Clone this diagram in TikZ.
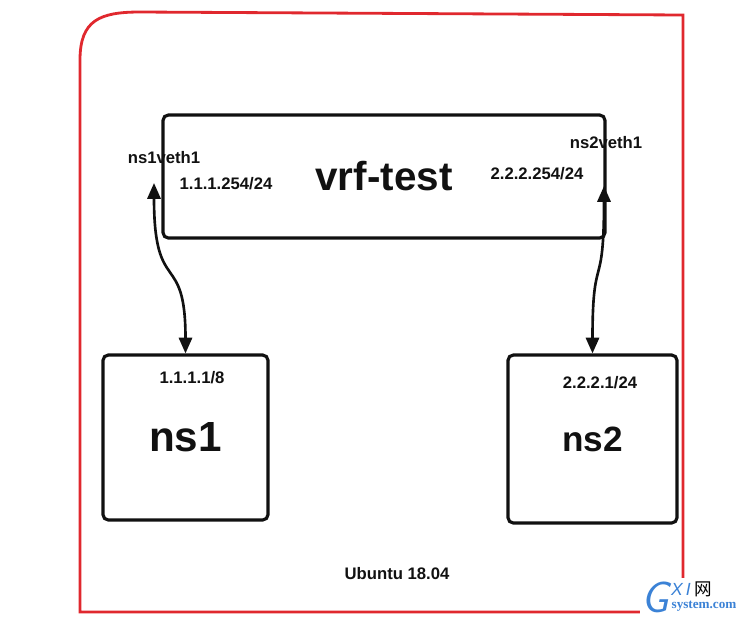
\documentclass[tikz,border=0pt]{standalone}
\usepackage{fontspec}
\setmainfont{Liberation Sans}
\newfontfamily\cjkfont{Noto Sans CJK SC}
\newfontfamily\wmserif{Liberation Serif}
\usepackage{tikz}
\usetikzlibrary{arrows.meta,positioning}
\definecolor{vrfred}{HTML}{E0282E}
\definecolor{vrfdark}{HTML}{111111}
\definecolor{wmblue}{HTML}{3B82D6}
\tikzset{
  nsbox/.style={draw=vrfdark,line width=1.8pt,rounded corners=3pt,inner sep=0pt,text=vrfdark,font=\bfseries\fontsize{24}{24}\selectfont},
  lbl/.style={font=\bfseries\fontsize{9.5}{10}\selectfont,text=vrfdark,inner sep=1pt},
  ar/.style={{Triangle[length=9pt,width=7.5pt]}-{Triangle[length=9pt,width=7.5pt]},draw=vrfdark,line width=1.5pt},
  hostframe/.style={draw=vrfred,line width=1.6pt},
  wm/.style={inner sep=0pt,text=wmblue},
}

\begin{document}
\begin{tikzpicture}[x=0.02cm,y=-0.02cm]
  \useasboundingbox (0,0) rectangle (740,620);
  % host
  \draw[hostframe] (683,15) -- (683,612) -- (80,612) -- (80,60) .. controls (80,20) and (100,12) .. (140,12) -- cycle;
  \node[lbl] (host) at (397,574) {Ubuntu 18.04};
  % vrf and namespaces
  \node[nsbox,minimum width=8.84cm,minimum height=2.46cm,font=\bfseries\fontsize{23}{23}\selectfont] (vrf) at (384,176.5) {vrf-test};
  \node[nsbox,minimum width=3.3cm,minimum height=3.3cm] (ns1) at (185.5,437.5) {ns1};
  \node[nsbox,minimum width=3.38cm,minimum height=3.36cm,font=\bfseries\fontsize{20}{20}\selectfont] (ns2) at (592.5,439) {ns2};
  \node[lbl] (v1name) at (164,158) {ns1veth1};
  \node[lbl] (v1ip) at (226,184) {1.1.1.254/24};
  \node[lbl] (v2ip) at (537,174) {2.2.2.254/24};
  \node[lbl] (v2name) at (606,143) {ns2veth1};
  \node[lbl] (ns1ip) at (192,378) {1.1.1.1/8};
  \node[lbl] (ns2ip) at (600,383) {2.2.2.1/24};
  % veth links
  \coordinate (v1end) at (154,183);
  \coordinate (v2end) at (604,186);
  \draw[ar] (v1end) .. controls +(0,115) and +(0,-105) .. (ns1.north);
  \draw[ar] (v2end) .. controls +(0,110) and +(0,-105) .. (ns2.north);
  % watermark
  \fill[white] (640,578) rectangle (740,618);
  \node[wm,font=\sffamily\itshape\fontsize{25}{25}\selectfont] (wmg) at (655,597) {G};
  \node[wm,font=\itshape\fontsize{10}{10}\selectfont] (wmxi) at (681,589) {X\,I};
  \node[inner sep=0pt,font=\cjkfont\fontsize{10}{10}\selectfont] (wmnet) at (703,589) {网};
  \node[wm,font=\wmserif\bfseries\fontsize{7.5}{8}\selectfont] (wmsite) at (704,606) {system.com};
\end{tikzpicture}
\end{document}
